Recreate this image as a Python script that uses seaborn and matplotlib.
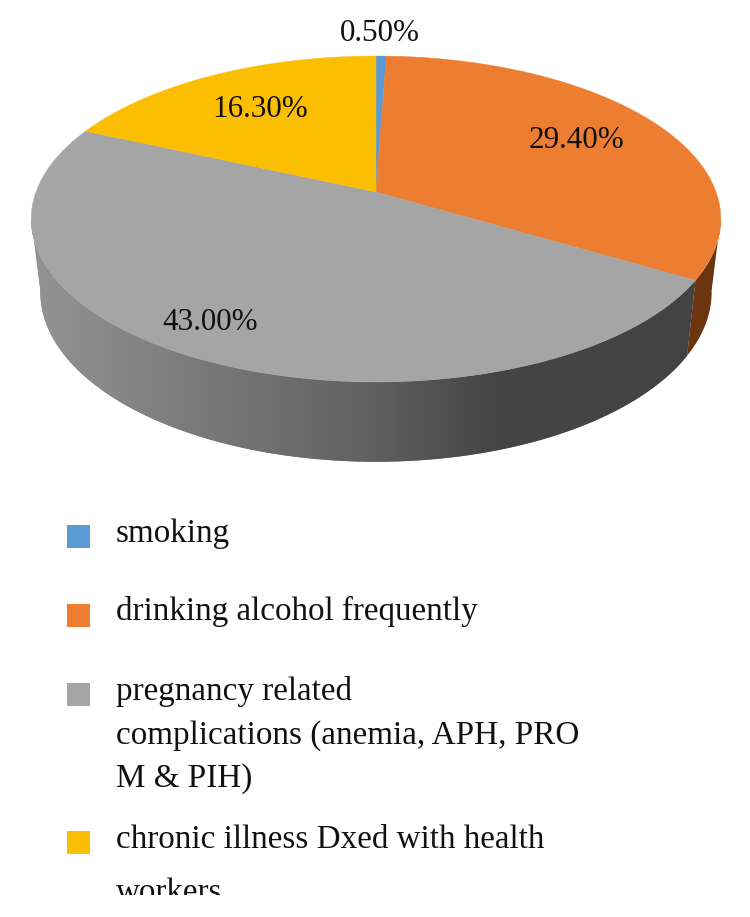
import matplotlib

matplotlib.use("Agg")
import matplotlib.pyplot as plt
import numpy as np
import seaborn as sns
from matplotlib.colors import LinearSegmentedColormap

categories = ["smoking", "drinking alcohol frequently", "pregnancy related complications", "chronic illness"]
values = [0.5, 29.4, 43.0, 16.3]
value_labels = ["0.50%", "29.40%", "43.00%", "16.30%"]
legend_lines = [
    ["smoking"],
    ["drinking alcohol frequently"],
    ["pregnancy related", "complications (anemia, APH, PRO", "M & PIH)"],
    ["chronic illness Dxed with health", "workers"],
]
colors = ["#5B9BD5", "#ED7D31", "#A5A5A5", "#FCBE00"]

# everything below is in image pixels, y pointing down
CX = 376
PERSPECTIVE = 0.1656
TOP_R, TOP_S, TOP_Y = 340, 158.5, 192
BOTTOM_R, BOTTOM_S, BOTTOM_Y = 331, 165, 264


def project(theta, r, s, y0):
    # theta is clockwise from 12 o'clock, circle goes through a perspective map
    u, v = np.sin(theta), np.cos(theta)
    w = 1 + PERSPECTIVE * v
    return CX + r * u / w, y0 - s * v / w


sns.set_theme(style="white")
plt.rcParams["font.family"] = ["Liberation Serif", "DejaVu Serif"]

fig, ax = plt.subplots(figsize=(7.5, 9.17), dpi=100)
ax.set_position([0, 0, 1, 1])
ax.axis("off")

fractions = np.array(values) / np.sum(values)
edges = np.concatenate([[0], np.cumsum(fractions)]) * 2 * np.pi


def wall_outline(start, stop):
    thetas = np.linspace(start, stop, 300)
    xt, yt = project(thetas, TOP_R, TOP_S, TOP_Y)
    xb, yb = project(thetas[::-1], BOTTOM_R, BOTTOM_S, BOTTOM_Y)
    return np.r_[xt, xb], np.r_[yt, yb]


# side wall, only the part facing us: orange is flat, grey runs light to dark
x, y = wall_outline(np.radians(99), edges[2])
ax.fill(x, y, color="#6B3510", lw=0, zorder=1)

x, y = wall_outline(edges[2], np.radians(261))
outline = ax.fill(x, y, color="#777777", lw=0, zorder=1)[0]
shade = LinearSegmentedColormap.from_list(
    "wall", [(0, "#989898"), (0.3, "#767676"), (0.48, "#626262"), (0.66, "#454545"), (1, "#424242")]
)
grad = ax.imshow(np.linspace(0, 1, 256)[None, :], cmap=shade, extent=(0, 750, 917, 0), aspect="auto", zorder=1.5)
grad.set_clip_path(outline)

ax.set_xlim(0, 750)
ax.set_ylim(917, 0)

# top face
for i, col in enumerate(sns.color_palette(colors)):
    thetas = np.linspace(edges[i], edges[i + 1], 200)
    x, y = project(thetas, TOP_R, TOP_S, TOP_Y)
    ax.fill(np.r_[CX, x], np.r_[TOP_Y, y], color=col, lw=0.3, zorder=2)

label_pos = [(380, 41), (577, 148), (210, 330), (260, 117)]
for (lx, ly), txt in zip(label_pos, value_labels):
    ax.text(lx, ly, txt, ha="center", va="baseline", fontsize=22.4, color="#111111", zorder=3)

# legend by hand, the last entry runs off the bottom of the frame
marker_y = [536, 615, 694, 842]
baselines = [[542], [620], [700, 744, 787], [848, 901]]
for col, my, lines, ys in zip(colors, marker_y, legend_lines, baselines):
    ax.add_patch(plt.Rectangle((67, my - 11.5), 23, 23, color=col, lw=0))
    for line, by in zip(lines, ys):
        t = ax.text(116, by, line, ha="left", va="baseline", fontsize=23.9, color="#111111")
        t.set_clip_on(True)
        t.set_clip_path(plt.Rectangle((0, 0), 750, 895, transform=ax.transData))

fig.savefig("out.png", dpi=100)
plt.close(fig)
